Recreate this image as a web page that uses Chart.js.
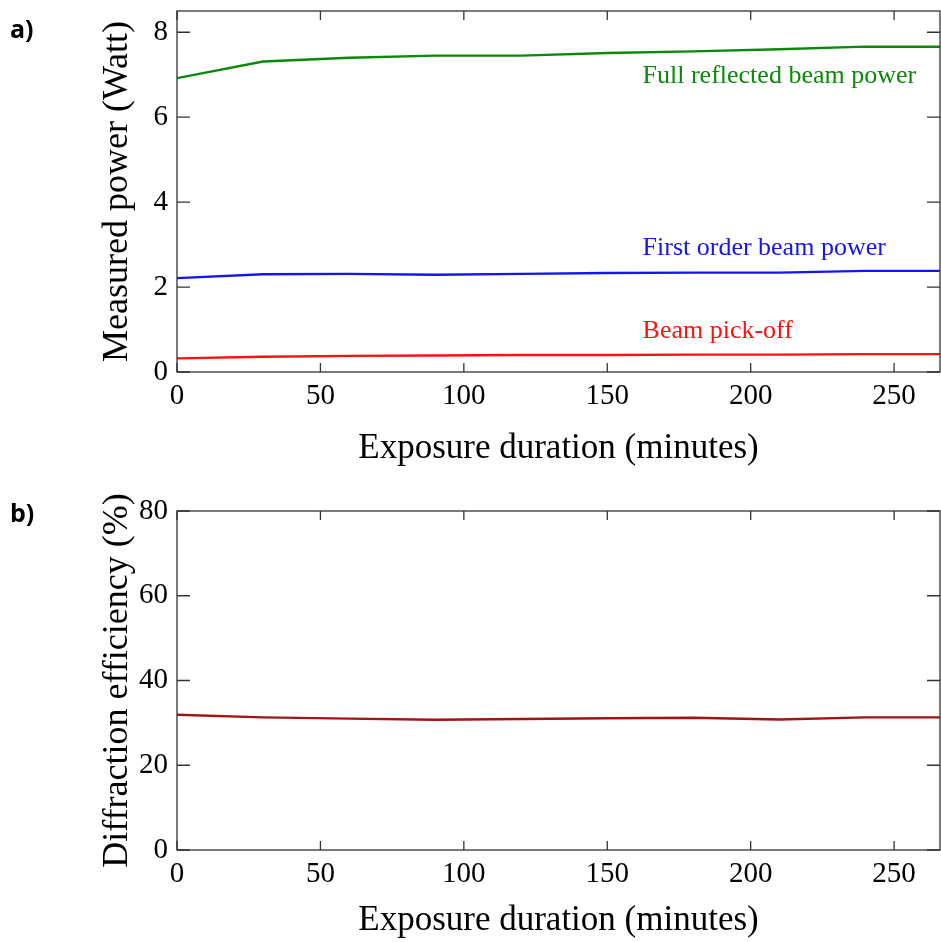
<!DOCTYPE html>
<html>
<head>
<meta charset="utf-8">
<script src="https://cdn.jsdelivr.net/npm/chart.js@4.4.0/dist/chart.umd.min.js"></script>
<style>
  body { margin: 0; background: #fff; }
  #wrap { position: relative; width: 941px; height: 942px; overflow: hidden; }
  .panel { position: absolute; left: 0; width: 941px; }
  .tag { position: absolute; font-family: "Open Sans", "Liberation Sans", sans-serif; font-weight: bold; font-size: 25px; color: #000; }
</style>
</head>
<body>
<div id="wrap">
  <div class="panel" style="top:0;height:470px"><canvas id="chartA"></canvas></div>
  <div class="panel" style="top:470px;height:472px"><canvas id="chartB"></canvas></div>
  <div class="tag" style="left:10px;top:11px">a)</div>
  <div class="tag" style="left:10px;top:495px">b)</div>
</div>
<script>
// exposure time in minutes
var minutes = [0, 30, 60, 90, 120, 150, 180, 210, 240, 270]

// panel a, Watt
var fullReflected = [6.92, 7.31, 7.40, 7.45, 7.45, 7.51, 7.55, 7.60, 7.66, 7.66]
var firstOrder = [2.21, 2.30, 2.31, 2.29, 2.31, 2.33, 2.34, 2.34, 2.38, 2.38]
var pickOff = [0.32, 0.36, 0.38, 0.39, 0.40, 0.40, 0.41, 0.41, 0.42, 0.42]

// panel b, percent
var efficiency = [31.9, 31.3, 31.0, 30.75, 30.9, 31.1, 31.2, 30.8, 31.3, 31.3]

var xTicks = [0, 50, 100, 150, 200, 250]
var yTicksA = [0, 2, 4, 6, 8]
var yTicksB = [0, 20, 40, 60, 80]

var serif = "'Liberation Serif', 'DejaVu Serif', serif"

function pts(ys){
    var out = []
    for(var i in minutes){
        out.push({x: minutes[i], y: ys[i]})
    }
    return out
}

// box around the plot plus inward ticks on all four sides
var frame = {
    id: 'frame',
    afterDraw(chart){
        var ctx = chart.ctx
        var a = chart.chartArea
        var sx = chart.scales.x, sy = chart.scales.y
        ctx.save()
        ctx.strokeStyle = '#333'
        ctx.lineWidth = 1.3
        ctx.strokeRect(a.left, a.top, a.right - a.left, a.bottom - a.top)
        ctx.beginPath()
        sx.ticks.forEach(function(t){
            var px = sx.getPixelForValue(t.value)
            ctx.moveTo(px, a.bottom); ctx.lineTo(px, a.bottom - 9)
            ctx.moveTo(px, a.top); ctx.lineTo(px, a.top + 9)
        })
        sy.ticks.forEach(function(t){
            var py = sy.getPixelForValue(t.value)
            ctx.moveTo(a.left, py); ctx.lineTo(a.left + 13, py)
            ctx.moveTo(a.right, py); ctx.lineTo(a.right - 13, py)
        })
        ctx.stroke()
        ctx.restore()
    }
}

// curve names written next to the lines (y is the text baseline)
var notes = {
    id: 'notes',
    afterDatasetsDraw(chart, args, opts){
        if(!opts.items) return
        var ctx = chart.ctx
        ctx.save()
        ctx.font = '26px ' + serif
        ctx.textBaseline = 'alphabetic'
        opts.items.forEach(function(it){
            ctx.fillStyle = it.color
            ctx.fillText(it.text, chart.scales.x.getPixelForValue(it.x), chart.scales.y.getPixelForValue(it.y))
        })
        ctx.restore()
    }
}

function makeOptions(yMax, yList, yTitle, topPad, xHeight, xTitlePad, items){
    return {
        responsive: true,
        maintainAspectRatio: false,
        animation: false,
        layout: { padding: { top: topPad, right: 1, left: 0, bottom: 0 } },
        plugins: { legend: { display: false }, tooltip: { enabled: false }, notes: { items: items } },
        elements: { point: { radius: 0 }, line: { borderWidth: 2.4, tension: 0 } },
        scales: {
            x: {
                type: 'linear', min: 0, max: 266,
                grid: { display: false, drawTicks: false },
                border: { display: false },
                afterBuildTicks: function(s){ s.ticks = xTicks.map(function(v){ return {value: v} }) },
                afterFit: function(s){ s.height = xHeight; s.paddingLeft = 0; s.paddingRight = 0 },
                ticks: { color: '#000', padding: 7, font: { family: serif, size: 29 }, maxRotation: 0 },
                title: { display: true, text: 'Exposure duration (minutes)', color: '#000', font: { family: serif, size: 35 }, padding: { top: xTitlePad, bottom: 0 } }
            },
            y: {
                min: 0, max: yMax,
                grid: { display: false, drawTicks: false },
                border: { display: false },
                afterBuildTicks: function(s){ s.ticks = yList.map(function(v){ return {value: v} }) },
                afterFit: function(s){ s.width = 177; s.paddingTop = 0; s.paddingBottom = 0 },
                ticks: { color: '#000', padding: 9, font: { family: serif, size: 29 } },
                title: { display: true, text: yTitle, color: '#000', font: { family: serif, size: 36 }, padding: { top: 96, bottom: 0 } }
            }
        }
    }
}

new Chart(document.getElementById('chartA'), {
    type: 'line',
    data: {
        datasets: [
            { label: 'Full reflected beam power', data: pts(fullReflected), borderColor: '#0a8a0a' },
            { label: 'First order beam power', data: pts(firstOrder), borderColor: '#1414f5' },
            { label: 'Beam pick-off', data: pts(pickOff), borderColor: '#ff1010' }
        ]
    },
    options: makeOptions(8.5, yTicksA, 'Measured power (Watt)', 11, 98, 7, [
        { text: 'Full reflected beam power', x: 162.3, y: 6.80, color: '#0a8a0a' },
        { text: 'First order beam power', x: 162.3, y: 2.75, color: '#1414f5' },
        { text: 'Beam pick-off', x: 162.3, y: 0.79, color: '#ff1010' }
    ]),
    plugins: [frame, notes]
});

new Chart(document.getElementById('chartB'), {
    type: 'line',
    data: {
        datasets: [
            { label: 'Diffraction efficiency', data: pts(efficiency), borderColor: '#a01414' }
        ]
    },
    options: makeOptions(80, yTicksB, 'Diffraction efficiency (%)', 41, 92, 1, []),
    plugins: [frame, notes]
});
</script>
</body>
</html>
